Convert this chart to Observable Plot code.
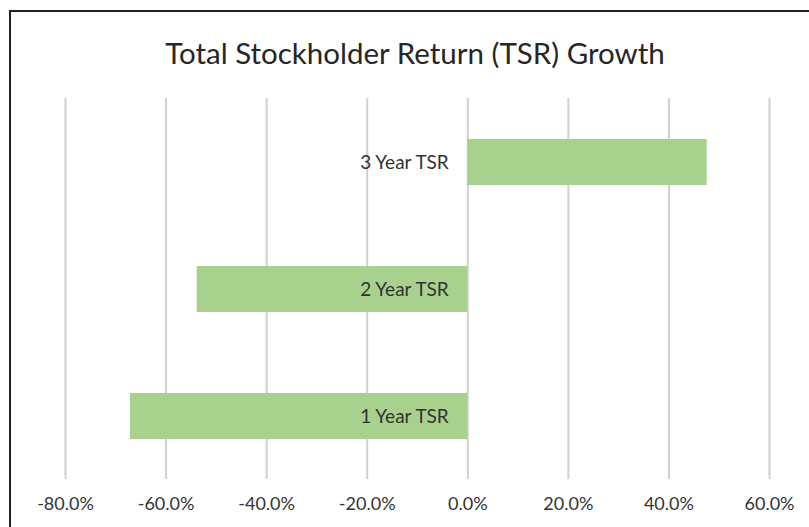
<!DOCTYPE html>
<html>
<head>
<meta charset="utf-8">
<script src="https://cdn.jsdelivr.net/npm/d3@7"></script>
<script src="https://cdn.jsdelivr.net/npm/@observablehq/plot@0.6"></script>
<style>
  html, body { margin: 0; padding: 0; background: #fff; }
  #wrap { position: relative; width: 809px; height: 527px; overflow: hidden; background: #fff; }
  #frame { position: absolute; left: 9px; top: 10px; width: 900px; height: 700px; border: 2px solid #222; box-sizing: border-box; }
  #title { position: absolute; left: 0; width: 830px; top: 34px; text-align: center; font-family: Lato, "Open Sans", sans-serif; font-size: 29.5px; color: #262626; line-height: 38px; }
  #chart { position: absolute; left: 0; top: 0; }
</style>
</head>
<body>
<div id="wrap">
  <div id="frame"></div>
  <div id="chart"></div>
  <div id="title">Total Stockholder Return (TSR) Growth</div>
</div>
<script>
const categories = ["3 Year TSR", "2 Year TSR", "1 Year TSR"];
const tsrValues = [47.6, -53.8, -67.1];
const tickValues = [-80, -60, -40, -20, 0, 20, 40, 60];

const data = categories.map((c, i) => ({category: c, value: tsrValues[i]}));

const plot = Plot.plot({
  width: 809,
  height: 527,
  marginLeft: 65,
  marginRight: 40,
  marginTop: 98,
  marginBottom: 48,
  style: {fontFamily: "Lato, 'Open Sans', sans-serif", fontSize: "18px", color: "#333", background: "transparent"},
  x: {domain: [-80, 60], ticks: tickValues, tickFormat: d => d.toFixed(1) + "%", tickSize: 0, tickPadding: 18, label: null},
  y: {domain: categories, paddingInner: 0.64, paddingOuter: 0.32, axis: null},
  marks: [
    Plot.gridX(tickValues, {stroke: "#d0d0d0", strokeOpacity: 1, strokeWidth: 2}),
    Plot.barX(data, {x: "value", y: "category", fill: "#a9d18e"}),
    Plot.text(data, {x: 0, y: "category", text: "category", textAnchor: "end", dx: -19, fill: "#333", fontSize: 19}),
    Plot.axisX({ticks: tickValues, tickFormat: d => d.toFixed(1) + "%", tickSize: 0, tickPadding: 18, fill: "#333", fontSize: 18, label: null})
  ]
});
document.getElementById("chart").appendChild(plot);
</script>
</body>
</html>
